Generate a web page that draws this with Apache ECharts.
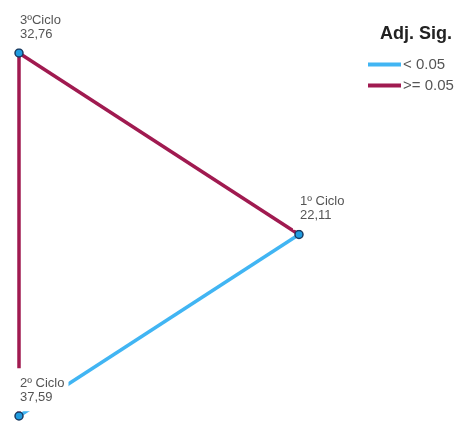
<!DOCTYPE html>
<html>
<head>
<meta charset="utf-8">
<script src="https://cdn.jsdelivr.net/npm/echarts@6/dist/echarts.min.js"></script>
<style>html,body{margin:0;padding:0;background:#fff}#c{width:454px;height:421px}</style>
</head>
<body>
<div id="c"></div>
<script>
// Data
const nodeNames = ['1º Ciclo', '2º Ciclo', '3ºCiclo'];
const meanRanks = [22.11, 37.59, 32.76];
const edgeSource = ['3ºCiclo', '1º Ciclo', '3ºCiclo'];
const edgeTarget = ['1º Ciclo', '2º Ciclo', '2º Ciclo'];
const edgeSig = ['>= 0.05', '< 0.05', '>= 0.05'];
const sigCategories = ['< 0.05', '>= 0.05'];

// Layout (abstract diagram coordinates) and styles
const layout = { '1º Ciclo': [1, 0.5], '2º Ciclo': [0, 0], '3ºCiclo': [0, 1] };
const sigColors = { '< 0.05': '#41b5f3', '>= 0.05': '#a01a50' };

const fmt = v => v.toFixed(2).replace('.', ',');

const nodes = nodeNames.map((n, i) => ({ name: n, value: layout[n], rank: meanRanks[i] }));
const links = edgeSource.map((s, i) => ({
  source: s, target: edgeTarget[i],
  lineStyle: { color: sigColors[edgeSig[i]], width: 3.5, opacity: 1 }
}));

const chart = echarts.init(document.getElementById('c'), null, { renderer: 'canvas' });
chart.setOption({
  animation: false,
  backgroundColor: '#fff',
  title: {
    text: 'Adj. Sig.', left: 375, top: 20,
    textStyle: { fontFamily: 'Liberation Sans', fontSize: 18, fontWeight: 'bold', color: '#222' }
  },
  legend: {
    orient: 'vertical', left: 363, top: 52, itemGap: 6,
    itemWidth: 33, itemHeight: 4, icon: 'rect',
    textStyle: { fontFamily: 'Liberation Sans', fontSize: 15, color: '#555', padding: [0,0,0,-3] },
    data: sigCategories
  },
  grid: { left: 19, top: 53, width: 280, height: 363 },
  xAxis: { type: 'value', min: 0, max: 1, show: false },
  yAxis: { type: 'value', min: 0, max: 1, show: false },
  series: [
    {
      type: 'graph', coordinateSystem: 'cartesian2d',
      data: nodes, links: links,
      symbol: 'circle', symbolSize: 8,
      itemStyle: { color: '#1f9ce0', borderColor: '#1b3a60', borderWidth: 1.5 },
      label: {
        show: true, position: 'top', align: 'left', verticalAlign: 'bottom', distance: 0,
        offset: [-6, 0],
        formatter: p => p.data.name + '\n' + fmt(p.data.rank),
        fontFamily: 'Liberation Sans', fontSize: 13, lineHeight: 14, color: '#555',
        backgroundColor: '#fff', padding: [8, 4, 7, 7]
      },
      emphasis: { disabled: true },
      z: 2
    },
    ...sigCategories.map(c => ({ name: c, type: 'line', data: [], color: sigColors[c] }))
  ]
});
</script>
</body>
</html>
